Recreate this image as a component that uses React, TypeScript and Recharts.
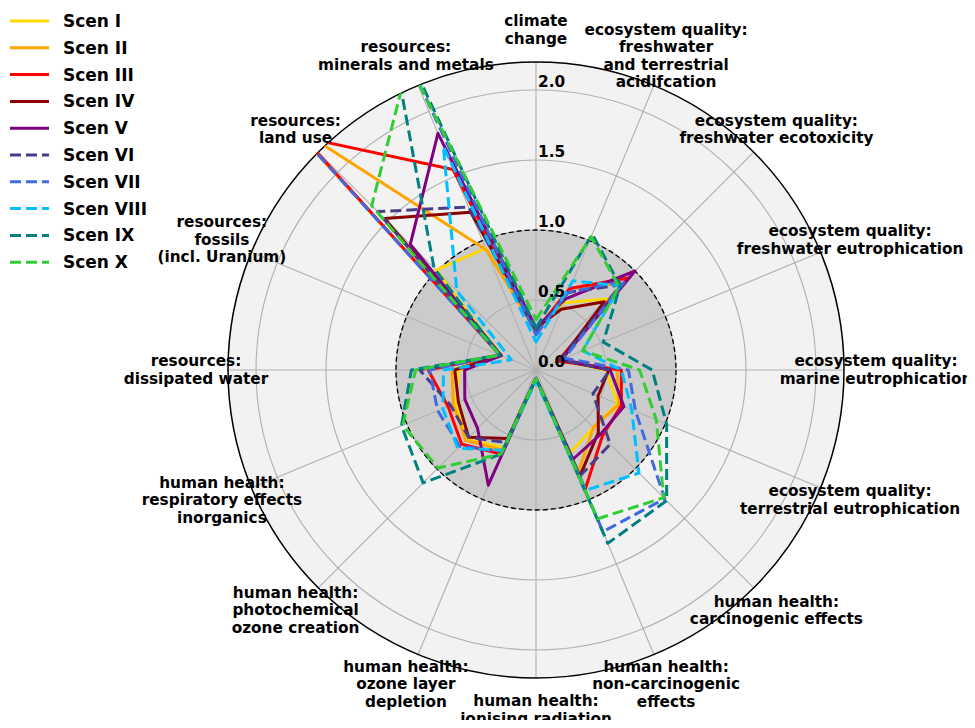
// LCA scenario comparison, normalised impact categories (radar)
import { RadarChart, Radar, PolarGrid, PolarAngleAxis, PolarRadiusAxis, Legend } from 'recharts';

const W = 975;
const H = 728;
const CX = 536;
const CY = 370;
const R_OUT = 308; // = 2.2 on the radius axis
const R_MAX = 2.2;
const LABEL_R = 340;

const categories = [
    'climate\nchange',
    'ecosystem quality:\nfreshwater\nand terrestrial\nacidifcation',
    'ecosystem quality:\nfreshwater ecotoxicity',
    'ecosystem quality:\nfreshwater eutrophication',
    'ecosystem quality:\nmarine eutrophication',
    'ecosystem quality:\nterrestrial eutrophication',
    'human health:\ncarcinogenic effects',
    'human health:\nnon-carcinogenic\neffects',
    'human health:\nionising radiation',
    'human health:\nozone layer\ndepletion',
    'human health:\nphotochemical\nozone creation',
    'human health:\nrespiratory effects\ninorganics',
    'resources:\ndissipated water',
    'resources:\nfossils\n(incl. Uranium)',
    'resources:\nland use',
    'resources:\nminerals and metals',
];

const scenI = [0.27, 0.52, 0.72, 0.19, 0.5, 0.63, 0.58, 0.64, 0.06, 0.6, 0.7, 0.62, 0.55, 0.27, 1.01, 0.94];
const scenII = [0.28, 0.63, 0.88, 0.19, 0.58, 0.64, 0.58, 0.79, 0.06, 0.62, 0.71, 0.64, 0.6, 0.27, 2.5, 0.93];
const scenIII = [0.28, 0.63, 0.93, 0.17, 0.61, 0.66, 0.67, 0.92, 0.06, 0.65, 0.75, 0.68, 0.77, 0.28, 2.35, 1.55];
const scenIV = [0.3, 0.47, 0.69, 0.19, 0.52, 0.48, 0.63, 0.82, 0.06, 0.53, 0.68, 0.6, 0.58, 0.27, 1.53, 1.22];
const scenV = [0.3, 0.55, 1.0, 0.2, 0.53, 0.68, 0.65, 0.69, 0.06, 0.89, 0.59, 0.55, 0.51, 0.27, 1.27, 1.83];
const scenVI = [0.27, 0.6, 0.86, 0.19, 0.53, 0.44, 0.75, 0.82, 0.06, 0.56, 0.68, 0.66, 0.83, 0.28, 1.6, 1.26];
const scenVII = [0.25, 0.6, 0.9, 0.22, 0.66, 0.77, 1.3, 1.25, 0.06, 0.63, 0.77, 0.76, 0.76, 0.28, 2.45, 2.5];
const scenVIII = [0.2, 0.69, 0.85, 0.36, 0.61, 0.74, 1.04, 0.93, 0.08, 0.62, 0.79, 0.72, 0.66, 0.19, 0.8, 1.73];
const scenIX = [0.3, 1.05, 0.85, 0.52, 0.83, 1.01, 1.32, 1.34, 0.06, 0.65, 1.14, 1.04, 0.89, 0.28, 1.03, 2.8];
const scenX = [0.36, 1.03, 0.84, 0.36, 0.74, 0.93, 1.29, 1.15, 0.06, 0.65, 0.99, 1.03, 0.86, 0.28, 1.66, 2.38];

const radiusTicks = [0, 0.5, 1, 1.5, 2];

const series = [
    { key: 's1', name: 'Scen I', values: scenI, color: '#FFD700', dashed: false },
    { key: 's2', name: 'Scen II', values: scenII, color: '#FFA500', dashed: false },
    { key: 's3', name: 'Scen III', values: scenIII, color: '#FF0000', dashed: false },
    { key: 's4', name: 'Scen IV', values: scenIV, color: '#8B0000', dashed: false },
    { key: 's5', name: 'Scen V', values: scenV, color: '#800080', dashed: false },
    { key: 's6', name: 'Scen VI', values: scenVI, color: '#483D8B', dashed: true },
    { key: 's7', name: 'Scen VII', values: scenVII, color: '#4169E1', dashed: true },
    { key: 's8', name: 'Scen VIII', values: scenVIII, color: '#00BFFF', dashed: true },
    { key: 's9', name: 'Scen IX', values: scenIX, color: '#008080', dashed: true },
    { key: 's10', name: 'Scen X', values: scenX, color: '#32CD32', dashed: true },
];

const data = categories.map((c, i) => {
    const row: Record<string, string | number> = { category: c };
    series.forEach((s) => {
        row[s.key] = s.values[i];
    });
    return row;
});

const FONT = '"DejaVu Sans", sans-serif';
const FS = 15.3;
const DASH = '11 5';

// the polar axes clip everything outside the outer circle
function ClippedLine(props: any) {
    const pts = props.points || [];
    if (!pts.length) return null;
    const d = pts.map((p: any, i: number) => `${i ? 'L' : 'M'}${p.x},${p.y}`).join(' ') + ' Z';
    const id = `clip-${props.dataKey}`;
    return (
        <g>
            <defs>
                <clipPath id={id}>
                    <circle cx={CX} cy={CY} r={R_OUT} />
                </clipPath>
            </defs>
            <path
                d={d}
                fill="none"
                stroke={props.stroke}
                strokeWidth={props.strokeWidth}
                strokeDasharray={props.strokeDasharray}
                strokeLinejoin="round"
                clipPath={`url(#${id})`}
            />
        </g>
    );
}

function AngleTick(props: any) {
    const { payload, index } = props;
    const i = typeof index === 'number' ? index : categories.indexOf(payload.value);
    const a = ((90 - i * (360 / categories.length)) * Math.PI) / 180;
    const x = CX + LABEL_R * Math.cos(a);
    const y = CY - LABEL_R * Math.sin(a);
    const lines = String(payload.value).split('\n');
    const lh = 17.5;
    return (
        <text x={x} y={y} textAnchor="middle" fontFamily={FONT} fontWeight="bold" fontSize={FS} fill="#000">
            {lines.map((l, k) => (
                <tspan key={k} x={x} y={y + (k - (lines.length - 1) / 2) * lh} dominantBaseline="central">
                    {l}
                </tspan>
            ))}
        </text>
    );
}

function RadiusTick(props: any) {
    const { x, y, payload } = props;
    return (
        <text
            x={x + 2}
            y={y - 8}
            textAnchor="start"
            dominantBaseline="central"
            fontFamily={FONT}
            fontWeight="bold"
            fontSize={FS}
            fill="#000"
        >
            {Number(payload.value).toFixed(1)}
        </text>
    );
}

function LegendBox() {
    return (
        <svg width={170} height={280} style={{ display: 'block' }}>
            {series.map((s, i) => {
                const y = 21 + i * 26.8;
                return (
                    <g key={s.key}>
                        <line
                            x1={10}
                            x2={49}
                            y1={y}
                            y2={y}
                            stroke={s.color}
                            strokeWidth={3}
                            strokeDasharray={s.dashed ? DASH : undefined}
                        />
                        <text x={63} y={y} dominantBaseline="central" fontFamily={FONT} fontWeight="bold" fontSize={17}>
                            {s.name}
                        </text>
                    </g>
                );
            })}
        </svg>
    );
}

export default function App() {
    return (
        <div style={{ position: 'relative', width: W, height: H, margin: -8, overflow: 'hidden' }}>
            <svg width={W} height={H} style={{ position: 'absolute', left: 0, top: 0 }}>
                <circle cx={CX} cy={CY} r={R_OUT} fill="#f2f2f2" />
                <circle cx={CX} cy={CY} r={R_OUT / R_MAX} fill="#cbcbcb" />
            </svg>
            <div style={{ position: 'absolute', left: 0, top: 0 }}>
                <RadarChart
                    width={W}
                    height={H}
                    data={data}
                    cx={CX}
                    cy={CY}
                    outerRadius={R_OUT}
                    startAngle={90}
                    endAngle={-270}
                    margin={{ top: 0, right: 0, bottom: 0, left: 0 }}
                >
                    <PolarGrid
                        gridType="circle"
                        polarRadius={radiusTicks.filter((t) => t > 0).map((t) => (t / R_MAX) * R_OUT)}
                        stroke="#b0b0b0"
                        strokeWidth={1.1}
                    />
                    <PolarGrid
                        gridType="circle"
                        radialLines={false}
                        polarRadius={[R_OUT / R_MAX]}
                        stroke="#000"
                        strokeWidth={1.3}
                        strokeDasharray="5 3"
                    />
                    <PolarGrid gridType="circle" radialLines={false} polarRadius={[R_OUT]} stroke="#000" strokeWidth={1.5} />
                    <PolarAngleAxis dataKey="category" tick={AngleTick} tickLine={false} axisLine={false} />
                    <PolarRadiusAxis
                        angle={90}
                        domain={[0, R_MAX]}
                        ticks={radiusTicks}
                        allowDataOverflow
                        axisLine={false}
                        tickLine={false}
                        tick={RadiusTick}
                    />
                    {series.map((s) => (
                        <Radar
                            key={s.key}
                            name={s.name}
                            dataKey={s.key}
                            stroke={s.color}
                            strokeWidth={3}
                            strokeDasharray={s.dashed ? DASH : undefined}
                            fill="none"
                            fillOpacity={0}
                            dot={false}
                            shape={ClippedLine}
                            isAnimationActive={false}
                        />
                    ))}
                    <Legend
                        layout="vertical"
                        align="left"
                        verticalAlign="top"
                        wrapperStyle={{ left: 0, top: 0, width: 170 }}
                        content={() => <LegendBox />}
                    />
                </RadarChart>
            </div>
        </div>
    );
}
